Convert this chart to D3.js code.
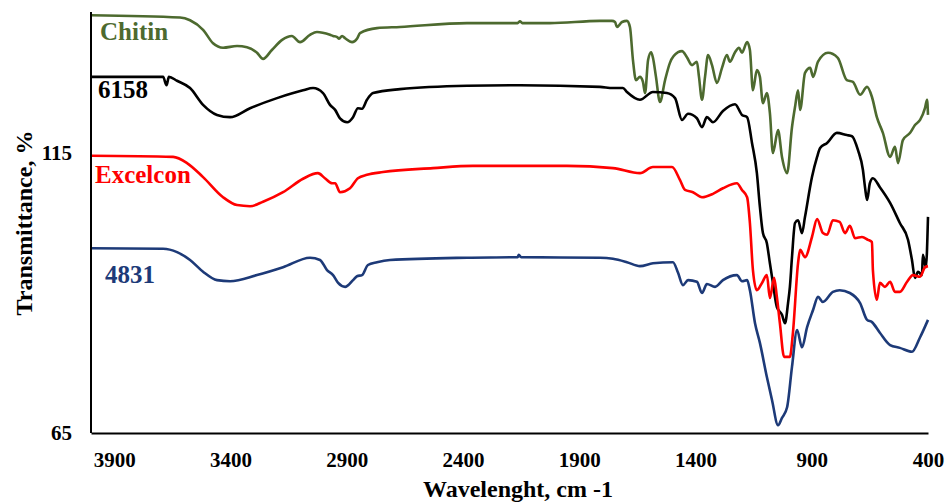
<!DOCTYPE html>
<html>
<head>
<meta charset="utf-8">
<script src="https://cdn.jsdelivr.net/npm/d3@7"></script>
<style>
  html, body { margin: 0; padding: 0; background: #fff; }
  svg { display: block; }
  text { font-family: "Liberation Serif", "Times New Roman", serif; font-weight: bold; }
</style>
</head>
<body>
<svg id="chart" width="949" height="504"></svg>
<script>
// FTIR spectra: wavenumber (cm-1) and transmittance (%)
const seriesNames = ["Chitin", "6158", "Excelcon", "4831"];
const seriesColors = ["#4d6a2f", "#000000", "#ff0000", "#1d3a78"];

const chitin = [
  [4000,139.6],[3617,139.2],[3574,138.7],[3518,137.0],[3475,134.6],[3432,133.8],[3372,134.1],
  [3329,133.9],[3286,132.9],[3260,131.8],[3222,133.4],[3178,135.2],[3136,135.9],[3101,134.8],
  [3058,136.1],[3028,136.6],[2972,136.1],[2959,135.9],[2941,135.7],[2933,135.4],[2920,135.9],
  [2907,135.5],[2877,134.8],[2856,135.4],[2843,136.4],[2770,137.3],[2671,137.5],[2383,138.2],
  [2240,138.2],[2165,138.2],[2155,138.5],[2145,138.2],[2026,138.2],[1811,138.6],[1759,138.6],
  [1746,138.4],[1738,137.5],[1716,138.4],[1695,138.6],[1682,137.5],[1669,131.6],[1656,128.0],
  [1639,128.6],[1626,127.7],[1617,125.7],[1604,131.6],[1591,133.0],[1583,132.0],[1570,128.6],
  [1553,124.1],[1531,128.0],[1510,131.1],[1475,133.0],[1458,133.2],[1437,132.1],[1415,130.7],
  [1394,131.3],[1385,128.6],[1372,124.5],[1359,128.6],[1346,132.5],[1329,130.7],[1308,127.5],
  [1286,130.2],[1265,132.5],[1252,131.3],[1230,133.0],[1213,133.8],[1200,132.9],[1178,134.8],
  [1166,133.4],[1153,126.2],[1136,129.8],[1123,128.6],[1110,123.9],[1093,125.7],[1080,122.1],
  [1067,115.0],[1045,119.1],[1028,114.3],[1006,111.4],[985,119.6],[972,123.2],[959,126.2],
  [950,122.7],[929,129.3],[907,130.2],[894,128.6],[873,131.3],[830,132.9],[788,132.0],
  [749,128.0],[723,127.7],[692,125.4],[662,126.8],[641,125.0],[620,121.4],[594,118.6],
  [563,114.3],[542,116.1],[529,113.2],[508,117.3],[477,118.6],[456,120.0],[434,120.9],
  [413,123.0],[404,124.5],[400,121.8]
];

const s6158 = [
  [4000,128.6],[3690,128.6],[3675,127.1],[3665,128.6],[3630,127.9],[3574,126.6],[3518,123.6],
  [3458,121.8],[3402,121.4],[3316,123.0],[3200,124.8],[3088,126.2],[3045,126.6],[3002,125.7],
  [2972,123.6],[2950,122.7],[2929,121.2],[2898,120.5],[2873,121.4],[2852,123.0],[2834,122.9],
  [2813,124.5],[2787,125.7],[2671,126.4],[2383,127.0],[2155,127.1],[1811,126.8],[1755,126.6],
  [1712,126.6],[1695,125.9],[1639,124.5],[1583,125.9],[1523,125.7],[1488,124.8],[1458,120.9],
  [1432,122.0],[1394,121.2],[1372,119.6],[1351,121.4],[1325,120.5],[1282,122.5],[1230,123.7],
  [1200,121.8],[1178,121.4],[1157,116.8],[1136,111.4],[1123,105.4],[1110,100.7],[1093,98.9],
  [1080,95.3],[1067,91.8],[1050,87.5],[1028,86.1],[1015,84.6],[1002,88.2],[994,91.1],
  [985,96.4],[972,102.5],[959,103.0],[942,100.7],[929,103.6],[899,110.7],[877,114.3],
  [864,115.9],[834,116.8],[792,118.6],[749,118.2],[727,118.0],[701,115.5],[680,112.0],
  [671,108.9],[662,106.6],[650,109.6],[637,110.5],[607,108.9],[563,106.1],[521,102.5],
  [486,99.5],[469,95.9],[456,92.7],[443,93.8],[426,93.2],[422,96.8],[409,94.6],[400,103.6]
];

const excelcon = [
  [4000,114.5],[3647,114.3],[3587,113.2],[3518,110.7],[3432,107.1],[3372,105.7],[3316,105.5],
  [3260,106.3],[3174,108.0],[3088,110.4],[3024,111.4],[2994,110.5],[2963,109.6],[2950,109.6],
  [2929,108.0],[2886,108.7],[2852,110.5],[2813,111.1],[2744,111.6],[2529,112.3],[2357,112.7],
  [2155,112.7],[1953,112.7],[1755,112.3],[1639,111.4],[1583,112.5],[1501,112.5],[1467,110.2],
  [1445,108.4],[1411,108.0],[1372,107.1],[1325,107.7],[1282,108.7],[1222,109.6],[1200,108.4],
  [1178,107.1],[1166,102.5],[1153,94.1],[1136,90.5],[1114,91.8],[1093,93.2],[1080,89.1],
  [1062,92.7],[1050,89.3],[1037,84.6],[1019,78.6],[994,78.6],[981,82.9],[959,95.3],
  [950,97.7],[929,96.4],[899,100.0],[877,103.2],[852,100.7],[834,100.4],[809,103.0],
  [780,102.7],[757,100.7],[736,102.0],[714,99.8],[684,100.0],[658,99.5],[641,99.1],
  [637,94.1],[620,88.8],[607,91.8],[585,91.1],[563,92.0],[542,90.2],[521,90.2],[490,92.0],
  [465,93.2],[434,92.9],[413,94.6],[400,94.8]
];

const s4831 = [
  [4000,98.0],[3690,97.9],[3630,97.3],[3574,95.9],[3518,93.8],[3458,92.3],[3402,92.1],
  [3286,93.2],[3174,94.6],[3058,96.3],[3015,95.9],[2985,94.1],[2959,93.2],[2937,91.8],
  [2907,91.1],[2873,92.3],[2856,93.0],[2834,93.2],[2809,95.0],[2770,95.5],[2714,95.9],
  [2383,96.3],[2165,96.4],[2160,96.8],[2150,96.4],[1811,96.3],[1755,96.1],[1695,95.5],
  [1639,94.8],[1583,95.3],[1497,95.5],[1475,93.6],[1454,91.4],[1432,92.3],[1394,92.0],
  [1372,90.0],[1351,91.6],[1316,91.1],[1282,92.3],[1222,93.2],[1200,92.1],[1178,92.3],
  [1166,90.5],[1144,84.6],[1123,81.1],[1093,75.0],[1071,70.9],[1045,66.4],[1028,67.7],
  [1006,69.6],[985,76.8],[963,83.4],[942,80.3],[920,83.9],[894,87.0],[873,89.3],[852,88.4],
  [809,90.2],[780,90.5],[736,90.0],[692,88.2],[662,85.2],[641,84.8],[607,82.9],[563,80.7],
  [521,80.2],[469,79.5],[434,82.1],[400,85.2]
];

const xTicks = [3900, 3400, 2900, 2400, 1900, 1400, 900, 400];
const yTicks = [65, 115];
const xTitle = "Wavelenght, cm -1";
const yTitle = "Transmittance, %";

const seriesData = [chitin, s6158, excelcon, s4831];

const svg = d3.select("#chart");
const plotLeft = 91, plotRight = 928, plotTop = 13, plotBottom = 433;

const x = d3.scaleLinear().domain([4000, 400]).range([plotLeft, plotRight]);
const y = d3.scaleLinear().domain([65, 140]).range([plotBottom, plotTop]);

// spectra
const line = d3.line()
  .x(d => x(d[0]))
  .y(d => y(d[1]))
  .curve(d3.curveMonotoneX);

svg.append("g").selectAll("path")
  .data(seriesData)
  .join("path")
  .attr("d", line)
  .attr("fill", "none")
  .attr("stroke", (d, i) => seriesColors[i])
  .attr("stroke-width", 2.6)
  .attr("stroke-linejoin", "round");

// axes
const xAxis = svg.append("g")
  .attr("transform", `translate(0,${plotBottom})`)
  .call(d3.axisBottom(x).tickValues(xTicks).tickSize(0).tickSizeOuter(0).tickPadding(19).tickFormat(d3.format("d")));
const yAxis = svg.append("g")
  .attr("transform", `translate(${plotLeft},0)`)
  .call(d3.axisLeft(y).tickValues(yTicks).tickSize(0).tickSizeOuter(0).tickPadding(19).tickFormat(d3.format("d")));

[xAxis, yAxis].forEach(g => {
  g.select(".domain").attr("stroke", "#000").attr("stroke-width", 2);
  g.selectAll(".tick text")
    .attr("fill", "#000")
    .style("font-family", '"Liberation Serif", "Times New Roman", serif')
    .style("font-weight", "bold")
    .style("font-size", "21px");
});
yAxis.select(".domain").attr("d", `M0,${plotBottom}V${plotTop - 1}`);

// axis titles
svg.append("text")
  .attr("x", 518).attr("y", 497)
  .attr("text-anchor", "middle")
  .style("font-size", "24px")
  .text(xTitle);

svg.append("text")
  .attr("transform", "translate(32,223) rotate(-90)")
  .attr("text-anchor", "middle")
  .style("font-size", "24px")
  .text(yTitle);

// series labels
const labelPos = [[100, 40], [98, 98], [95, 183], [105, 283]];
svg.append("g").selectAll("text")
  .data(seriesNames)
  .join("text")
  .attr("x", (d, i) => labelPos[i][0])
  .attr("y", (d, i) => labelPos[i][1])
  .attr("fill", (d, i) => seriesColors[i])
  .style("font-size", "25px")
  .text(d => d);
</script>
</body>
</html>
